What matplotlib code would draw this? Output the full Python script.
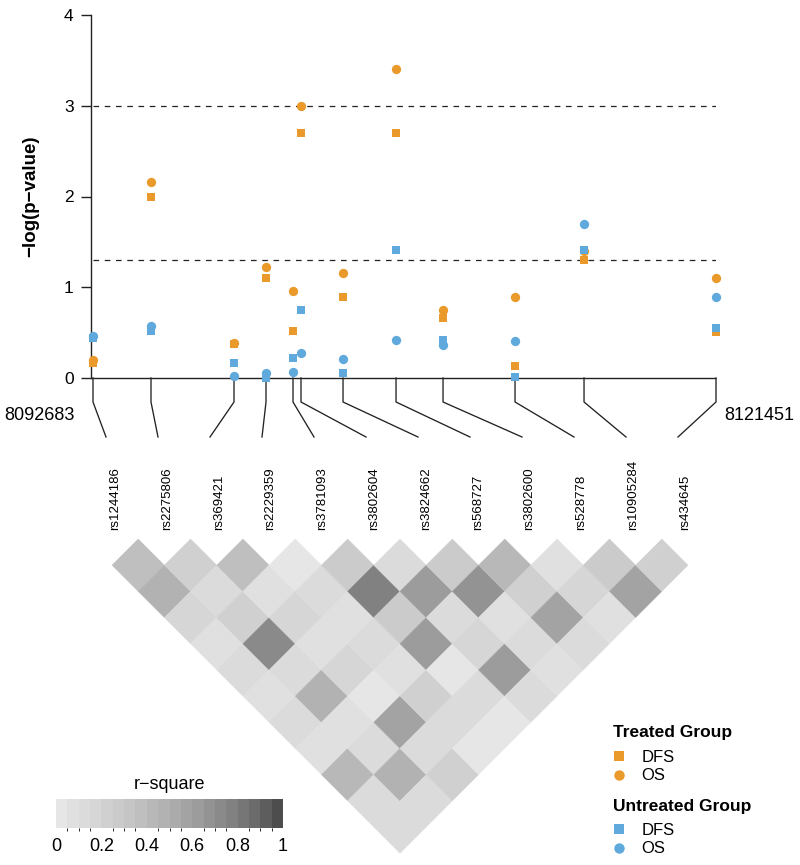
import numpy as np
import matplotlib
matplotlib.use('Agg')
import matplotlib.pyplot as plt
from matplotlib.collections import PolyCollection
from matplotlib.colors import ListedColormap, BoundaryNorm
from matplotlib.lines import Line2D

plt.rcParams['font.family'] = ['Liberation Sans', 'DejaVu Sans']

# SNPs along the region, in physical order
snps = ['rs1244186', 'rs2275806', 'rs369421', 'rs2229359', 'rs3781093', 'rs3802604',
        'rs3824662', 'rs568727', 'rs3802600', 'rs528778', 'rs10905284', 'rs434645']
positions = [8092683, 8095361, 8099194, 8100672, 8101919, 8102288,
             8104228, 8106676, 8108846, 8112171, 8115357, 8121451]

# -log(p) per SNP
treated_dfs = [0.16, 2.00, 0.38, 1.10, 0.52, 2.70, 0.89, 2.70, 0.66, 0.135, 1.30, 0.51]
treated_os = [0.20, 2.16, 0.39, 1.22, 0.96, 3.00, 1.16, 3.40, 0.75, 0.89, 1.40, 1.10]
untreated_dfs = [0.44, 0.52, 0.165, 0.00, 0.22, 0.75, 0.06, 1.405, 0.42, 0.01, 1.405, 0.55]
untreated_os = [0.46, 0.57, 0.02, 0.06, 0.07, 0.275, 0.21, 0.42, 0.36, 0.41, 1.70, 0.89]

thresholds = [3.0, 1.3]

# pairwise r-square, row i holds pairs (i, i+1), (i, i+2), ...
r2_rows = [
    [0.38, 0.48, 0.18, 0.05, 0.10, 0.08, 0.10, 0.06, 0.40, 0.12, 0.15],
    [0.22, 0.12, 0.20, 0.72, 0.14, 0.45, 0.06, 0.14, 0.47, 0.10],
    [0.38, 0.05, 0.17, 0.07, 0.18, 0.04, 0.55, 0.13, 0.24],
    [0.04, 0.15, 0.05, 0.14, 0.05, 0.22, 0.10, 0.04],
    [0.30, 0.78, 0.25, 0.62, 0.04, 0.14, 0.04],
    [0.15, 0.62, 0.12, 0.16, 0.62, 0.12],
    [0.30, 0.70, 0.05, 0.14, 0.08],
    [0.40, 0.20, 0.60, 0.10],
    [0.06, 0.18, 0.06],
    [0.30, 0.60],
    [0.20],
]
cbar_ticks = [0, 0.2, 0.4, 0.6, 0.8, 1]
cbar_labels = ['0', '0.2', '0.4', '0.6', '0.8', '1']

orange = '#EA9A2A'
blue = '#5FA9DD'
W, H = 800, 865

fig = plt.figure(figsize=(W / 100, H / 100), dpi=100)

# overlay in pixel coordinates for the map, heatmap and legend
ov = fig.add_axes([0, 0, 1, 1], zorder=0)
ov.set_xlim(0, W)
ov.set_ylim(H, 0)
ov.axis('off')

# association plot
start, end = positions[0], positions[-1]
xleft = start - (end - start) * 2 / 623
ax = fig.add_axes([91 / W, (H - 378) / H, (716 - 91) / W, 363 / H], zorder=2)
ax.patch.set_alpha(0)
ax.set_xlim(xleft, end)
ax.set_ylim(0, 4)
for s in ['top', 'right', 'bottom']:
    ax.spines[s].set_visible(False)
ax.spines['left'].set_linewidth(1.0)
ax.spines['left'].set_color('#222222')
ax.set_xticks([])
ax.set_yticks([0, 1, 2, 3, 4])
ax.tick_params(axis='y', length=7.5, width=1.0, color='#222222', labelsize=12.5, pad=5)
ax.set_ylabel('\u2212log(p\u2212value)', fontweight='bold', fontsize=13.5)
ax.yaxis.set_label_coords(-0.082, 0.5)

ax.hlines(0, xleft, end, color='#222222', lw=1.0, clip_on=False)
ax.hlines(thresholds, start, end, color='#222222', lw=0.9, linestyles=(0, (4.5, 4.5)))

kw = dict(ls='none', mew=0, clip_on=False, zorder=3)
ax.plot(positions, treated_dfs, marker='s', ms=6.3, color=orange, **kw)
ax.plot(positions, treated_os, marker='o', ms=6.7, color=orange, **kw)
ax.plot(positions, untreated_dfs, marker='s', ms=6.3, color=blue, **kw)
ax.plot(positions, untreated_os, marker='o', ms=6.7, color=blue, **kw)

# map connectors from genome position to the heatmap labels
n = len(snps)
snp_px = [ax.transData.transform((p, 0))[0] for p in positions]
ends = np.linspace(106, 678, n)
label_x = np.linspace(115, 685, n)
for px, ex in zip(snp_px, ends):
    ov.plot([px, px, ex], [378, 402, 437], color='#222222', lw=0.95)
ov.text(75, 415, str(start), ha='right', va='center', fontsize=13)
ov.text(724, 415, str(end), ha='left', va='center', fontsize=13)
for lx, name in zip(label_x, snps):
    ov.text(lx, 530, name, rotation=90, ha='center', va='bottom', fontsize=9.5)

# LD heatmap
levels = np.linspace(0.9 ** 2.2, 0.3 ** 2.2, 20) ** (1 / 2.2)
cmap = ListedColormap([(g, g, g) for g in levels])
norm = BoundaryNorm(np.linspace(0, 1, 21), 20)

w = 576 / (n - 1)
x0, y0 = 112, 539
polys, vals = [], []
for i, row in enumerate(r2_rows):
    for k, v in enumerate(row):
        j = i + 1 + k
        cx = x0 + (i + j) * w / 2
        cy = y0 + (j - i) * w / 2
        polys.append([(cx - w / 2, cy), (cx, cy - w / 2), (cx + w / 2, cy), (cx, cy + w / 2)])
        vals.append(v)
pc = PolyCollection(polys, cmap=cmap, norm=norm, edgecolors='face', linewidths=0.3)
pc.set_array(np.array(vals))
ov.add_collection(pc)

# colour key
cax = fig.add_axes([56 / W, (H - 828) / H, 227 / W, 29 / H])
sm = plt.cm.ScalarMappable(norm=norm, cmap=cmap)
cb = fig.colorbar(sm, cax=cax, orientation='horizontal', ticks=cbar_ticks)
cb.outline.set_visible(False)
cb.ax.set_xticklabels(cbar_labels)
cb.ax.tick_params(length=0, labelsize=13, pad=7)
cax.set_title('r\u2212square', fontsize=13, pad=7)

# legend: bold group titles with DFS / OS entries underneath
def group_legend(color, title, title_y):
    ov.text(613, title_y, title, fontsize=12.5, fontweight='bold', ha='left', va='center')
    handles = [Line2D([], [], ls='none', marker='s', ms=7, mew=0, color=color, label='DFS'),
               Line2D([], [], ls='none', marker='o', ms=7.5, mew=0, color=color, label='OS')]
    return ov.legend(handles=handles, loc='upper left',
                     bbox_to_anchor=(613, title_y + 17), bbox_transform=ov.transData,
                     frameon=False, fontsize=12,
                     borderpad=0, borderaxespad=0, handlelength=0.75,
                     handletextpad=0.95, labelspacing=0.2)

leg1 = group_legend(orange, 'Treated Group', 733)
ov.add_artist(leg1)
group_legend(blue, 'Untreated Group', 806)

fig.savefig('out.png', dpi=100)
